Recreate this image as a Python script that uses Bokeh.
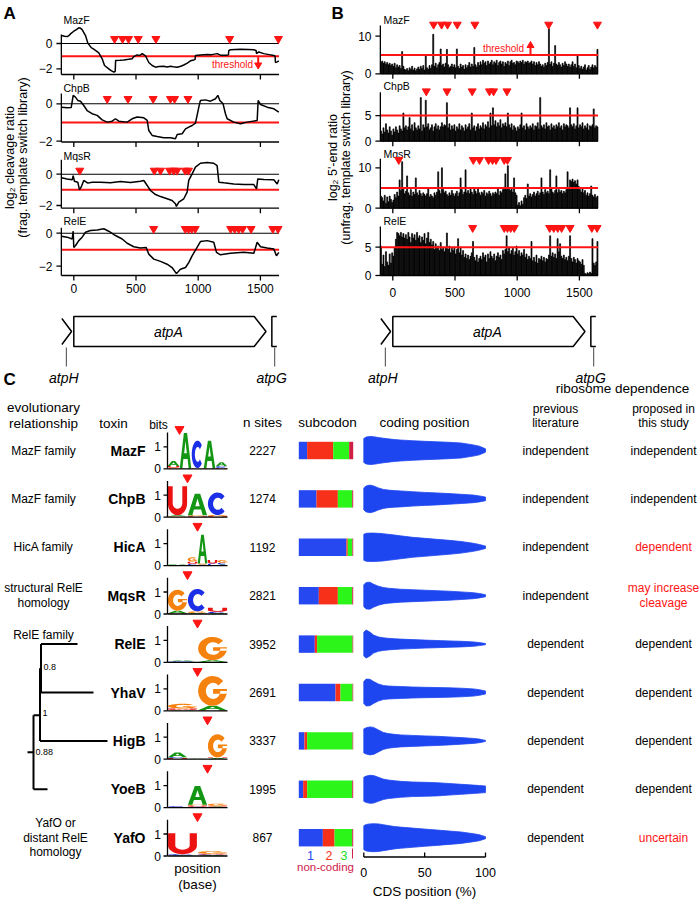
import numpy as np
from bokeh.plotting import figure
from bokeh.models import Range1d
from bokeh.core.properties import value
from bokeh.embed import file_html
from bokeh.resources import INLINE

FONT = "Liberation Sans"
RED = "#ff1414"

# ============================ DATA ============================
# Panel A: log2 cleavage ratio along atpA, (position nt, value)
A_MazF = [(-99, 0.63), (-75, 0.58), (-53, 0.55), (-40, 0.62), (-27, 0.76), (0, 0.97), (21, 1.1), (40, 1.24),
          (55, 1.2), (67, 1.1), (94, 0.63), (113, 0.03), (140, -0.33), (160, -0.45), (174, -0.55), (201, -0.74),
          (228, -1.21), (247, -1.74), (281, -2.0), (300, -2.15), (322, -2.27), (333, -2.2), (336, -1.34),
          (370, -1.32), (402, -1.3), (440, -1.25), (469, -1.2), (482, -1.04), (509, -0.9), (530, -0.95),
          (550, -0.8), (576, -0.97), (603, -1.5), (630, -1.74), (657, -1.87), (683, -1.82), (723, -1.8),
          (750, -1.85), (777, -1.8), (800, -1.83), (831, -1.87), (860, -1.8), (884, -1.7), (912, -1.55),
          (938, -1.37), (965, -1.3), (975, -1.25), (978, -0.95), (1018, -0.9), (1072, -0.86), (1110, -0.88),
          (1153, -0.8), (1179, -0.92), (1233, -0.92), (1243, -0.9), (1246, -0.55), (1260, -0.5), (1300, -0.47),
          (1340, -0.45), (1400, -0.47), (1447, -0.5), (1465, -0.55), (1469, -0.8), (1487, -0.67), (1527, -0.8),
          (1570, -0.88), (1608, -0.95), (1618, -1.0), (1621, -1.5), (1635, -1.45), (1648, -1.37)]
A_ChpB = [(-99, -0.18), (-54, -0.21), (-21, -0.2), (-5, 0.45), (13, 0.36), (32, 0.18), (54, 0.14), (80, -0.09),
          (107, -0.36), (147, -0.53), (188, -0.62), (228, -0.86), (268, -0.98), (308, -0.93), (335, -0.8),
          (362, -0.93), (429, -0.98), (469, -0.8), (509, -0.71), (563, -0.75), (590, -0.89), (603, -1.43),
          (630, -1.69), (670, -1.75), (723, -1.82), (777, -1.82), (817, -1.87), (831, -1.64), (871, -1.6),
          (898, -1.34), (924, -1.25), (951, -1.16), (978, -1.03), (1005, -0.18), (1018, 0.18), (1058, 0.21),
          (1099, 0.14), (1139, 0.27), (1158, 0.45), (1174, 0.18), (1200, 0.0), (1219, -0.53), (1233, -0.8),
          (1286, -0.98), (1340, -1.07), (1393, -0.98), (1474, -0.89), (1482, 0.18), (1501, -0.04),
          (1554, -0.18), (1608, -0.27), (1648, -0.45)]
A_MqsR = [(-99, -0.23), (-54, -0.3), (-13, -0.36), (-5, -0.09), (5, -0.45), (32, -0.51), (46, -1.0), (59, -0.83),
          (80, -0.4), (113, -0.57), (147, -0.51), (214, -0.51), (295, -0.55), (375, -0.47), (456, -0.53),
          (536, -0.45), (563, -0.4), (590, -0.72), (616, -1.04), (657, -1.3), (697, -1.43), (750, -1.57),
          (790, -1.68), (817, -1.89), (825, -2.06), (844, -1.79), (884, -1.57), (911, -1.15), (924, -0.4),
          (951, 0.02), (978, 0.45), (1018, 0.7), (1072, 0.74), (1125, 0.7), (1152, 0.55), (1166, -0.51),
          (1206, -0.55), (1286, -0.62), (1367, -0.66), (1447, -0.66), (1469, -0.94), (1479, -0.3),
          (1527, -0.34), (1608, -0.36), (1635, -0.62), (1648, -0.36)]
A_RelE = [(-99, -0.18), (-54, -0.24), (-13, -0.35), (-5, 0.12), (0, -0.86), (13, -0.76), (40, -0.45), (67, -0.24),
          (94, 0.06), (134, 0.16), (188, 0.2), (241, 0.27), (281, 0.12), (335, -0.14), (389, -0.35), (429, -0.61),
          (482, -0.82), (536, -0.9), (581, -0.86), (603, -1.27), (643, -1.57), (697, -1.71), (750, -1.88),
          (790, -2.08), (825, -2.45), (857, -2.18), (898, -2.08), (924, -1.78), (951, -1.37), (991, -0.86),
          (1018, -0.51), (1072, -0.45), (1125, -0.55), (1147, -1.16), (1179, -1.31), (1259, -1.22),
          (1367, -1.16), (1447, -1.22), (1474, -0.55), (1501, -0.82), (1554, -0.9), (1608, -0.96),
          (1629, -1.37), (1648, -1.16)]

# Panel B: log2 5'-end ratio in 10-nt bins (bin starts)
B_bin_start = list(range(-100, 1650, 10))
B_MazF = [3.0, 3.4, 2.8, 3.2, 2.6, 3.0, 2.4, 2.8, 2.2, 2.6,
          2.0, 2.8, 1.6, 2.4, 1.8, 2.2, 1.4, 5.9, 2.0, 1.2,
          1.0, 1.4, 0.8, 1.6, 1.2, 2.0, 1.0, 1.5, 0.8, 1.3,
          1.8, 1.2, 2.0, 1.4, 2.2, 1.0, 4.8, 1.6, 1.2, 2.2,
          1.5, 2.4, 10.5, 2.0, 2.8, 1.6, 2.4, 3.0, 6.6, 2.2,
          2.6, 1.8, 2.8, 6.5, 2.4, 1.6, 2.0, 2.6, 1.8, 2.4,
          1.6, 6.6, 2.0, 1.4, 2.6, 1.8, 2.2, 1.2, 2.4, 1.6,
          2.2, 3.0, 1.8, 2.6, 2.0, 7.0, 2.4, 1.8, 3.0, 2.2,
          3.2, 2.4, 3.6, 2.8, 3.2, 2.2, 3.4, 2.6, 3.0, 3.6,
          2.4, 3.2, 2.8, 3.6, 2.2, 3.0, 3.4, 2.6, 3.2, 2.0,
          3.0, 2.6, 3.4, 2.2, 3.2, 3.6, 2.8, 3.0, 2.4, 3.4,
          3.2, 2.8, 3.4, 3.0, 3.6, 2.6, 3.2, 3.0, 3.4, 2.8,
          3.0, 3.4, 2.6, 3.2, 2.2, 3.0, 2.4, 3.2, 2.6, 2.0,
          2.4, 1.8, 2.8, 2.2, 3.0, 12.0, 2.6, 3.2, 2.0, 2.8,
          7.5, 2.6, 2.2, 3.0, 2.4, 1.8, 2.8, 2.2, 3.2, 2.6,
          2.0, 2.6, 1.8, 2.4, 3.2, 2.0, 2.6, 1.6, 5.0, 2.2,
          1.4, 2.0, 1.2, 1.8, 2.4, 1.0, 1.6, 2.2, 1.2, 1.8,
          2.4, 1.6, 2.2, 1.8, 6.5]
B_ChpB = [2.0, 1.4, 2.6, 1.8, 3.4, 2.2, 1.6, 2.8, 2.0, 1.2,
          2.4, 1.8, 2.8, 2.2, 1.6, 3.0, 2.4, 2.0, 5.5, 2.6,
          3.0, 2.2, 2.8, 4.6, 2.4, 3.2, 2.0, 3.6, 2.6, 2.2,
          3.0, 2.4, 8.5, 2.0, 3.2, 2.6, 8.0, 2.8, 3.4, 2.2,
          2.6, 3.2, 2.0, 2.8, 3.4, 2.4, 3.0, 2.2, 2.8, 3.6,
          2.8, 3.2, 3.0, 7.5, 2.6, 3.4, 2.2, 3.0, 2.4, 3.2,
          2.0, 2.8, 2.4, 3.4, 2.2, 3.0, 2.6, 2.0, 3.2, 2.4,
          2.8, 3.4, 2.2, 5.5, 2.6, 3.0, 2.0, 2.8, 3.4, 2.4,
          3.0, 2.6, 3.6, 2.4, 3.2, 2.8, 3.8, 2.6, 5.5, 3.0,
          6.5, 3.2, 4.0, 2.8, 3.6, 3.0, 4.2, 2.6, 3.4, 3.0,
          3.6, 2.8, 5.5, 3.2, 2.6, 3.4, 2.2, 3.0, 2.6, 2.0,
          2.8, 2.4, 3.2, 5.5, 2.6, 3.0, 2.2, 3.4, 2.8, 2.4,
          3.0, 2.6, 3.4, 2.2, 3.0, 2.8, 3.6, 2.4, 8.5, 3.0,
          2.6, 3.2, 2.4, 3.6, 2.8, 3.0, 2.2, 3.4, 2.6, 3.0,
          2.4, 3.2, 2.8, 3.6, 2.6, 3.0, 2.2, 3.4, 2.8, 3.2,
          3.0, 2.6, 6.5, 3.2, 2.8, 3.4, 2.4, 3.0, 6.5, 2.6,
          3.2, 2.8, 3.6, 2.4, 3.0, 2.6, 3.4, 2.2, 3.0, 2.8,
          3.2, 6.3, 2.6, 3.0, 2.8]
B_MqsR = [3.0, 2.6, 1.8, 3.2, 1.2, 2.8, 1.6, 3.0, 2.2, 1.4,
          2.0, 3.4, 2.6, 4.0, 3.0, 7.0, 4.4, 11.5, 4.8, 3.6,
          4.2, 8.0, 3.8, 3.2, 4.6, 3.0, 4.0, 3.4, 7.5, 3.8,
          3.2, 4.4, 3.6, 3.0, 3.8, 3.4, 3.0, 3.6, 5.0, 2.8,
          3.4, 3.0, 2.6, 3.8, 3.2, 4.0, 9.0, 4.4, 3.6, 10.0,
          4.6, 3.8, 4.2, 3.4, 3.0, 3.8, 3.2, 4.4, 3.6, 3.0,
          3.6, 4.2, 3.0, 3.8, 7.5, 4.6, 3.4, 4.0, 9.5, 3.8,
          4.4, 3.6, 4.8, 4.0, 3.4, 5.0, 4.2, 3.6, 4.8, 3.8,
          3.2, 4.0, 3.6, 4.4, 3.0, 3.8, 3.4, 4.2, 3.6, 3.0,
          3.8, 3.4, 4.0, 3.6, 5.0, 3.2, 4.2, 3.8, 4.6, 5.2,
          8.5, 4.6, 10.5, 5.0, 4.4, 4.8, 4.0, 7.5, 3.8, 3.2,
          0.8, 1.4, 0.6, 1.8, 1.0, 2.6, 3.2, 2.4, 6.0, 3.0,
          3.6, 2.8, 3.4, 4.0, 3.0, 3.6, 4.2, 3.2, 3.8, 7.5,
          4.0, 3.4, 4.6, 3.8, 4.2, 3.6, 9.5, 4.8, 4.0, 3.6,
          4.4, 8.0, 3.8, 4.6, 4.0, 4.4, 3.6, 4.2, 3.8, 4.6,
          9.0, 5.0, 7.0, 6.6, 7.2, 6.4, 6.8, 6.0, 7.0, 5.4,
          4.6, 4.0, 5.0, 3.8, 4.4, 3.2, 3.8, 3.0, 3.6, 5.5,
          3.2, 2.8, 3.4, 2.6, 3.0]
B_RelE = [5.2, 2.0, 3.6, 1.6, 4.2, 2.4, 1.8, 3.8, 2.2, 4.0,
          3.4, 5.0, 6.4, 7.6, 7.4, 7.0, 7.6, 6.8, 7.4, 6.6,
          7.2, 6.4, 7.6, 6.8, 5.8, 7.4, 6.6, 7.2, 6.2, 7.6,
          6.6, 7.0, 5.8, 6.8, 6.2, 7.4, 5.6, 6.6, 7.6, 5.8,
          6.4, 5.4, 6.0, 4.6, 5.6, 4.8, 5.2, 4.4, 5.8, 4.6,
          5.0, 4.2, 4.8, 7.5, 4.6, 5.2, 4.0, 4.8, 4.4, 5.0,
          3.8, 4.6, 6.5, 4.0, 5.0, 3.6, 4.4, 3.2, 3.8, 3.0,
          3.6, 2.8, 3.4, 4.0, 6.0, 3.2, 2.6, 3.6, 2.4, 3.0,
          3.4, 2.8, 4.0, 3.2, 3.6, 2.4, 3.8, 3.0, 4.2, 3.4,
          3.0, 3.8, 2.6, 3.4, 4.0, 3.2, 3.6, 2.8, 4.4, 3.8,
          4.6, 7.0, 4.2, 5.0, 3.8, 4.4, 4.8, 3.6, 4.2, 5.2,
          3.8, 4.4, 3.4, 4.0, 3.6, 4.6, 3.2, 3.8, 2.8, 3.4,
          3.0, 6.0, 2.6, 3.2, 2.4, 3.6, 2.2, 3.0, 2.8, 3.4,
          2.6, 3.2, 2.4, 3.0, 2.8, 3.6, 7.0, 3.4, 4.0, 3.2,
          3.8, 3.0, 6.5, 4.2, 5.6, 3.4, 3.0, 3.6, 2.8, 3.2,
          2.6, 3.4, 7.0, 3.0, 2.4, 3.2, 2.8, 2.2, 3.0, 2.6,
          2.4, 2.0, 2.8, 1.8, 0.4, 0.2, 0.5, 0.3, 0.6, 0.4,
          6.5, 2.2, 1.8, 2.4, 6.0]

# cleavage sites (nt) marked by triangles in A and B
sites_MazF = [328, 392, 440, 518, 660, 1253, 1645]
sites_ChpB = [269, 436, 638, 777, 810, 918]
sites_MqsR = [48, 647, 697, 770, 802, 830, 896, 922]
sites_RelE = [642, 896, 922, 948, 976, 1261, 1294, 1326, 1357, 1425, 1600, 1642]

panel_AB_names = ["MazF", "ChpB", "MqsR", "RelE"]
A_thresh = -1
B_thresh = 5
A_yticks = [[0, -2], [0, -2], [0, -2], [0, -2]]
B_yticks = [[0, 10], [0, 5], [0, 10], [0, 5]]
x_ticks = [0, 500, 1000, 1500]
x_lim = (-100, 1650)

# gene map (nt)
gene_body_end, gene_tip = 1450, 1545
atpH_pos, atpG_pos = -60, 1615

# Panel C table
toxins = ["MazF", "ChpB", "HicA", "MqsR", "RelE", "YhaV", "HigB", "YoeB", "YafO"]
n_sites = [2227, 1274, 1192, 2821, 3952, 2691, 3337, 1995, 867]
prev_lit = ["independent", "independent", "independent", "independent",
            "dependent", "dependent", "dependent", "dependent", "dependent"]
proposed = ["independent", "independent", "dependent", "may increase\ncleavage",
            "dependent", "dependent", "dependent", "dependent", "uncertain"]
relationship = ["MazF family", "MazF family", "HicA family", "structural RelE\nhomology",
                "", "", "", "", "YafO or\ndistant RelE\nhomology"]

# subcodon fractions: codon position 1, 2, 3, non-coding
sub_pos1 = [0.153, 0.325, 0.875, 0.368, 0.294, 0.675, 0.104, 0.080, 0.442]
sub_pos2 = [0.479, 0.393, 0.025, 0.350, 0.043, 0.092, 0.049, 0.074, 0.215]
sub_pos3 = [0.294, 0.264, 0.085, 0.264, 0.651, 0.221, 0.835, 0.828, 0.325]
sub_nonc = [0.074, 0.018, 0.015, 0.018, 0.012, 0.012, 0.012, 0.018, 0.018]

# coding-position violins: half-width (density, a.u.) at CDS position (%)
cds_pos = [0, 2, 5, 8, 12, 16, 20, 25, 30, 40, 50, 60, 70, 80, 90, 95, 100]
vio_MazF = [12, 13.5, 14, 13.8, 13, 12.3, 11.7, 11, 10.5, 9.8, 9.2, 8.7, 8.2, 7.5, 5.6, 4.3, 1.7]
vio_ChpB = [11, 13, 13.8, 13, 11, 9.5, 8.8, 8.3, 8, 7.2, 6.5, 6, 5.3, 4.6, 3.8, 3, 1.8]
vio_HicA = [13, 14, 14.2, 14.2, 14, 13.6, 13, 12.3, 11.5, 10, 9, 8, 7, 5.8, 4, 2.8, 1.2]
vio_MqsR = [11, 13.2, 13.5, 11.5, 9.5, 8.2, 7.5, 7, 6.5, 6, 5.5, 5, 4.5, 3.8, 3, 2.2, 1]
vio_RelE = [12, 14, 12, 9, 7.2, 6.3, 5.8, 5.4, 5, 4.5, 4, 3.6, 3.2, 2.8, 2.2, 1.5, 0.6]
vio_YhaV = [11, 13.5, 13.2, 11, 8.5, 7, 6.5, 6.2, 6, 5.5, 5.2, 5, 4.7, 4.3, 3.6, 2.8, 1.5]
vio_HigB = [12, 13.2, 14, 13.5, 11, 8.5, 7.3, 6.6, 6, 5.5, 5, 4.6, 4, 3.3, 2.5, 1.8, 0.5]
vio_YoeB = [12, 13.2, 14, 13.8, 12, 10.2, 9.3, 8.6, 8, 7.3, 7, 6.6, 5.8, 5, 4.2, 3.8, 3.3]
vio_YafO = [12, 13.2, 13.8, 14, 13.8, 13, 12.2, 11.2, 10.6, 9.6, 8.6, 7.7, 6.7, 5.7, 4, 3, 1]

# sequence logos: columns of (letter, bits) stacked bottom -> top
logo_MazF = [[("G", 0.05), ("U", 0.08), ("A", 0.22)], [("U", 0.03), ("A", 1.6)], [("G", 0.03), ("C", 1.25)],
             [("U", 0.03), ("A", 1.25)], [("U", 0.04), ("C", 0.08), ("A", 0.18)]]
logo_ChpB = [[("G", 0.04), ("A", 0.05), ("U", 1.32)], [("U", 0.04), ("G", 0.05), ("A", 0.98)],
             [("U", 0.04), ("G", 0.06), ("C", 1.02)]]
logo_HicA = [[("C", 0.03), ("A", 0.03)], [("U", 0.02), ("A", 0.03)], [("C", 0.08), ("U", 0.1), ("G", 0.2)],
             [("C", 0.04), ("G", 0.06), ("A", 1.3)], [("C", 0.1), ("U", 0.15)], [("A", 0.05), ("C", 0.08), ("G", 0.12)]]
logo_MqsR = [[("U", 0.03), ("A", 0.12), ("G", 0.95)], [("A", 0.04), ("G", 0.08), ("C", 1.02)],
             [("A", 0.04), ("C", 0.06), ("U", 0.18)]]
logo_RelE = [[("G", 0.02), ("C", 0.03), ("A", 0.04)], [("U", 0.02), ("A", 0.08), ("G", 1.06)]]
logo_YhaV = [[("A", 0.04), ("U", 0.06), ("G", 0.22)], [("U", 0.03), ("A", 0.2), ("G", 1.35)]]
logo_HigB = [[("U", 0.05), ("C", 0.04), ("A", 0.22)], [("A", 0.02)], [("A", 0.05), ("U", 0.03), ("G", 1.05)]]
logo_YoeB = [[("U", 0.03), ("C", 0.04)], [("C", 0.04), ("U", 0.05), ("G", 0.04), ("A", 0.85)],
             [("A", 0.05), ("U", 0.03), ("G", 0.1)]]
logo_YafO = [[("A", 0.02), ("C", 0.06), ("U", 0.95)], [("A", 0.04), ("C", 0.03), ("U", 0.03), ("G", 0.12)]]
logo_cut = [1, 1, 3, 1, 1, 1, 2, 2, 1]   # cleavage boundary (column index)

# phylogeny of the RelE family (support values)
tree_support = ["0.8", "1", "0.88"]

# ============================ LAYOUT ============================
W, H = 700, 900
OX, OY = 0, 0
XR, YR = {}, {}


def add_xr(name, px0, px1, d0, d1):
    s = (d1 - d0) / (px1 - px0)
    XR[name] = Range1d(start=d0 - (px0 - OX) * s, end=d1 + (OX + W - px1) * s)


def add_yr(name, py0, py1, v0, v1):
    s = (v1 - v0) / (py1 - py0)
    YR[name] = Range1d(start=v0 + (OY + H - py0) * s, end=v0 + (OY - py0) * s)


add_xr("A", 73.3, 259.9, 0, 1500)
add_xr("B", 392.3, 578.9, 0, 1500)
A_layout = [  # zero_px, px_per_unit, top_px, bottom_px, title_y, marker_y
    (43.0, 12.65, 34.0, 74.0, 19.0, 38.3),
    (103.3, 18.7, 93.0, 141.5, 87.0, 98.3),
    (173.7, 15.65, 159.3, 207.7, 155.0, 170.0),
    (232.7, 16.5, 227.3, 275.0, 220.0, 228.3),
]
B_layout = [
    (73.3, 3.76, 25.0, 73.3, 19.0, 24.0),
    (140.7, 5.13, 91.7, 140.7, 85.7, 90.7),
    (207.7, 4.04, 158.3, 207.7, 153.3, 159.3),
    (275.0, 5.67, 226.0, 275.0, 220.0, 227.3),
]
for k in range(4):
    z, ppu = A_layout[k][:2]
    add_yr(f"A{k}", z, z - ppu, 0, 1)
    z, ppu = B_layout[k][:2]
    add_yr(f"B{k}", z, z - ppu, 0, 1)

ROW0, ROWH = 450.0, 48.4
add_yr("rows", ROW0, ROW0 + ROWH, 0, 1)
add_xr("logo", 167.0, 227.0, 0, 1)
add_xr("sub", 298.3, 352.7, 0, 1)
add_xr("cds", 363.3, 485.0, 0, 100)
for i in range(len(toxins)):
    rc = ROW0 + ROWH * i
    add_yr(f"L{i}", rc + 18.3, rc + 18.3 - 22.0, 0, 1)
    add_yr(f"V{i}", rc, rc - 1.0, 0, 1)

p = figure(width=W, height=H, output_backend="svg", toolbar_location=None,
           x_range=Range1d(OX, OX + W), y_range=Range1d(OY + H, OY),
           x_axis_type=None, y_axis_type=None, min_border=0,
           background_fill_color="white", border_fill_color="white")
p.outline_line_color = None
p.grid.visible = False
p.extra_x_ranges = XR
p.extra_y_ranges = YR


def rk(xr=None, yr=None):
    d = {}
    if xr:
        d["x_range_name"] = xr
    if yr:
        d["y_range_name"] = yr
    return d


def T(x, y, s, size=12, color="black", align="center", style="normal", angle=0.0,
      baseline="middle", xr=None, yr=None):
    xs = x if isinstance(x, list) else [x]
    ys = y if isinstance(y, list) else [y]
    ss = s if isinstance(s, list) else [s]
    p.text(x=xs, y=ys, text=ss, text_font=value(FONT), text_font_size=f"{size}px",
           text_color=color, text_align=align, text_baseline=baseline,
           text_font_style=style, angle=angle, **rk(xr, yr))


def S(x0, y0, x1, y1, color="black", w=1.2, xr=None, yr=None):
    p.segment(x0=x0, y0=y0, x1=x1, y1=y1, line_color=color, line_width=w, **rk(xr, yr))


# ============================ PANELS A & B ============================
T(3, 13, "A", size=17, style="bold", align="left")
T(331, 13, "B", size=17, style="bold", align="left")

A_curves = [A_MazF, A_ChpB, A_MqsR, A_RelE]
B_bars = [B_MazF, B_ChpB, B_MqsR, B_RelE]
sites = [sites_MazF, sites_ChpB, sites_MqsR, sites_RelE]
xmin, xmax = x_lim

for panel, xr, lay, yt_all, left_px, lab_x, title_x in [
        ("A", "A", A_layout, A_yticks, 60.9, 52.0, 63.0),
        ("B", "B", B_layout, B_yticks, 379.9, 371.0, 383.0)]:
    for k in range(4):
        yr = f"{panel}{k}"
        z, ppu, top_px, bot_px, title_y, mk_y = lay[k]
        vtop = (z - top_px) / ppu
        vbot = (z - bot_px) / ppu
        # data
        if panel == "A":
            S([xmin], [0], [xmax], [0], w=1.1, xr=xr, yr=yr)
            S([xmin], [A_thresh], [xmax], [A_thresh], color=RED, w=2.0, xr=xr, yr=yr)
            xs, ys = zip(*A_curves[k])
            p.line(list(xs), list(ys), line_color="black", line_width=1.5, **rk(xr, yr))
        else:
            p.vbar(x=[b + 5 for b in B_bin_start], top=B_bars[k], bottom=0, width=8,
                   fill_color="black", line_color="black", line_width=0.7, **rk(xr, yr))
            S([xmin], [B_thresh], [xmax], [B_thresh], color=RED, w=2.0, xr=xr, yr=yr)
        # axes
        S([xmin], [vbot], [xmin], [vtop], w=1.3, xr=xr, yr=yr)
        S([xmin], [vbot], [xmax], [vbot], w=1.3, xr=xr, yr=yr)
        yt = yt_all[k]
        S([left_px - 5] * len(yt), yt, [left_px] * len(yt), yt, w=1.3, yr=yr)
        T([lab_x] * len(yt), yt, [str(v).replace("-", "\u2212") for v in yt], size=12, align="right", yr=yr)
        S(x_ticks, [bot_px] * 4, x_ticks, [bot_px + 5] * 4, w=1.3, xr=xr)
        if k == 3:
            T(x_ticks, [287.5 if panel == "A" else 291.5] * 4, [str(v) for v in x_ticks], size=12, xr=xr)
        # title and sites
        T(title_x, title_y, panel_AB_names[k], size=10.5, align="left")
        p.scatter(x=sites[k], y=[mk_y] * len(sites[k]), marker="inverted_triangle", size=8,
                  fill_color=RED, line_color=RED, **rk(xr))

# axis titles
T(9, 157, "log\u2082 cleavage ratio", size=12.5, angle=np.pi / 2)
T(22, 157, "(frag. template switch library)", size=12.5, angle=np.pi / 2)
T(332, 157, "log\u2082 5'-end ratio", size=12.5, angle=np.pi / 2)
T(345, 157, "(unfrag. template switch library)", size=12.5, angle=np.pi / 2)

# threshold annotations
T(232, 63.5, "threshold", size=10, color=RED)
S([257.7], [56], [257.7], [63], color=RED, w=2)
p.scatter(x=[257.7], y=[64.5], marker="inverted_triangle", size=7, fill_color=RED, line_color=RED)
T(503, 47.7, "threshold", size=10, color=RED)
S([530], [54], [530], [46], color=RED, w=2)
p.scatter(x=[530], y=[45], marker="triangle", size=7, fill_color=RED, line_color=RED)

# gene maps
for xr in ["A", "B"]:
    p.patch([0, gene_body_end, gene_tip, gene_body_end, 0], [316, 316, 331, 346, 346],
            fill_color="white", line_color="black", line_width=1.5, **rk(xr))
    p.line([-96, -18, -96], [318, 331, 344], line_color="black", line_width=1.5, **rk(xr))
    p.line([1632, 1592, 1592, 1632], [316, 316, 346, 346], line_color="black", line_width=1.5, **rk(xr))
    S([atpH_pos, atpG_pos], [347, 347], [atpH_pos, atpG_pos], [366, 366], color="#444444", w=1, xr=xr)
    T(760, 331, "atpA", size=14, style="italic", xr=xr)
    T(-80, 377, "atpH", size=14, style="italic", xr=xr)
    T(1590, 377, "atpG", size=14, style="italic", xr=xr)

# ============================ PANEL C ============================
T(3, 379, "C", size=17, style="bold", align="left")
HS = 13.5
T(43, 406.5, "evolutionary", size=HS)
T(43, 423, "relationship", size=HS)
T(113, 423, "toxin", size=HS)
T(158, 424, "bits", size=12)
T(262, 422, "n sites", size=HS)
T(327, 422, "subcodon", size=HS)
T(424, 422, "coding position", size=HS)
T(622, 388, "ribosome dependence", size=HS)
T(555, 408, "previous", size=12)
T(555, 422, "literature", size=12)
T(663, 408, "proposed in", size=12)
T(663, 422, "this study", size=12)

rows = list(range(len(toxins)))
T([145.0] * 9, rows, toxins, size=14, style="bold", align="right", yr="rows")
T([262.0] * 9, rows, [str(n) for n in n_sites], size=12, yr="rows")
T([555.0] * 9, rows, prev_lit, size=12, yr="rows")
for i, s in enumerate(proposed):
    col = "black" if s == prev_lit[i] else RED
    lines = s.split("\n")
    for j, ln in enumerate(lines):
        T(663, i + (j - (len(lines) - 1) / 2) * 0.3, ln, size=12, color=col, yr="rows")
for i, s in enumerate(relationship):
    if not s:
        continue
    lines = s.split("\n")
    cx = 55 if len(lines) == 3 else 43
    for j, ln in enumerate(lines):
        T(cx, i + (j - (len(lines) - 1) / 2) * 0.3, ln, size=12, yr="rows")

# tree (RelE family): x in px, y in rows
T(43, 3.82, "RelE family", size=12, yr="rows")
tree_x0 = [40.5, 40.5, 40.5, 39.5, 39.5, 39.5, 33.0, 33.0, 33.0, 27.0]
tree_x1 = [77.0, 93.0, 40.5, 40.5, 39.5, 107.0, 39.5, 33.0, 47.0, 33.0]
tree_y0 = [4.0, 5.0, 4.0, 4.5, 4.5, 6.0, 5.47, 5.47, 7.0, 6.235]
tree_y1 = [4.0, 5.0, 5.0, 4.5, 6.0, 6.0, 5.47, 7.0, 7.0, 6.235]
S(tree_x0, tree_y0, tree_x1, tree_y1, w=2, yr="rows")
T([43.0, 42.0, 35.0], [4.47, 5.42, 6.235], tree_support, size=9, align="left", yr="rows")

# logos
LCOL = {"A": "#139613", "C": "#1c2fe6", "G": "#f5820f", "U": "#ec1212"}


def arc(cx, cy, rx, ry, a0, a1, n=28):
    t = np.radians(np.linspace(a0, a1, n))
    return (cx + rx * np.cos(t)).tolist(), (cy + ry * np.sin(t)).tolist()


def letter_polys(ch):
    if ch == "A":
        return [[([0.0, 0.36, 0.64, 1.0, 0.77, 0.685, 0.315, 0.23], [0, 1, 1, 0, 0, 0.26, 0.26, 0]),
                 ([0.385, 0.5, 0.615], [0.42, 0.78, 0.42])]]
    if ch == "C":
        ox, oy = arc(0.5, 0.5, 0.5, 0.5, 42, 318)
        ix, iy = arc(0.52, 0.5, 0.25, 0.27, 318, 42)
        return [[(ox + ix, oy + iy)]]
    if ch == "G":
        ox, oy = arc(0.5, 0.5, 0.5, 0.5, 42, 360)
        ix, iy = arc(0.52, 0.5, 0.25, 0.27, 360, 42)
        bar = ([0.52, 1.0, 1.0, 0.52], [0.56, 0.56, 0.4, 0.4])
        return [[(ox + ix, oy + iy)], [bar]]
    ox, oy = arc(0.5, 0.42, 0.5, 0.42, 180, 360)
    ix, iy = arc(0.5, 0.42, 0.25, 0.2, 360, 180)
    return [[([0.0] + ox + [1.0, 0.75] + ix + [0.25], [1.0] + oy + [1.0, 1.0] + iy + [1.0])]]


SHAPES = {c: letter_polys(c) for c in "ACGU"}
logos = [logo_MazF, logo_ChpB, logo_HicA, logo_MqsR, logo_RelE, logo_YhaV, logo_HigB, logo_YoeB, logo_YafO]
for i, cols in enumerate(logos):
    yr = f"L{i}"
    n = len(cols)
    XS, YS, CS = [], [], []
    for c, stack in enumerate(cols):
        x0 = c / n + 0.02 / n
        x1 = (c + 1) / n - 0.02 / n
        base = 0.0
        for letter, h in stack:
            gx, gy = [], []
            for poly in SHAPES[letter]:
                gx.append([[x0 + v * (x1 - x0) for v in rx] for rx, ry in poly])
                gy.append([[base + v * h for v in ry] for rx, ry in poly])
            XS.append(gx)
            YS.append(gy)
            CS.append(LCOL[letter])
            base += h
    p.multi_polygons(xs=XS, ys=YS, fill_color=CS, line_color=None, **rk("logo", yr))
    # logo axes
    S([167.0], [0], [167.0], [1.65], w=1.3, yr=yr)
    S([163.0, 163.0], [0, 1], [167.0, 167.0], [0, 1], w=1.3, yr=yr)
    S([0], [0], [1], [0], w=1.3, xr="logo", yr=yr)
    T([160.5, 160.5], [0, 1], ["0", "1"], size=12, align="right", yr=yr)
    p.scatter(x=[logo_cut[i] / n], y=[i - 0.44], marker="inverted_triangle", size=9,
              fill_color=RED, line_color=RED, **rk("logo", "rows"))
T(197, 867.5, "position", size=HS)
T(197, 883.5, "(base)", size=HS)

# subcodon stacked bars
SUBC = ["#2548f0", "#f7301a", "#2cf51a", "#cf1f45"]
left = [0.0] * len(toxins)
for frac, col in zip([sub_pos1, sub_pos2, sub_pos3, sub_nonc], SUBC):
    right = [l + f for l, f in zip(left, frac)]
    p.hbar(y=rows, left=left, right=right, height=0.36, fill_color=col, line_color=None, **rk("sub", "rows"))
    left = right
T([310.0, 328.5, 343.5], [855.0] * 3, ["1", "2", "3"], size=12.5, color=[SUBC[0], SUBC[1], "#22dd22"])
T(325, 866.5, "non-coding", size=11.5, color="#d0204a")
S([352.0], [848], [352.0], [858], color="#d0204a", w=1)

# coding-position violins
VIOC = "#1e46f0"
violins = [vio_MazF, vio_ChpB, vio_HicA, vio_MqsR, vio_RelE, vio_YhaV, vio_HigB, vio_YoeB, vio_YafO]
for i, w in enumerate(violins):
    xs = cds_pos + cds_pos[::-1]
    ys = list(w) + [-v for v in w[::-1]]
    p.patch(xs, ys, fill_color=VIOC, line_color=VIOC, line_width=0.8, **rk("cds", f"V{i}"))
cds_ticks = [0, 50, 100]
S([0], [856.5], [100], [856.5], w=1.3, xr="cds")
S(cds_ticks, [852.0] * 3, cds_ticks, [856.5] * 3, w=1.3, xr="cds")
T(cds_ticks, [872.0] * 3, [str(v) for v in cds_ticks], size=12.5, xr="cds")
T(424, 891.0, "CDS position (%)", size=HS)

open("out.html", "w").write(file_html(p, INLINE))
